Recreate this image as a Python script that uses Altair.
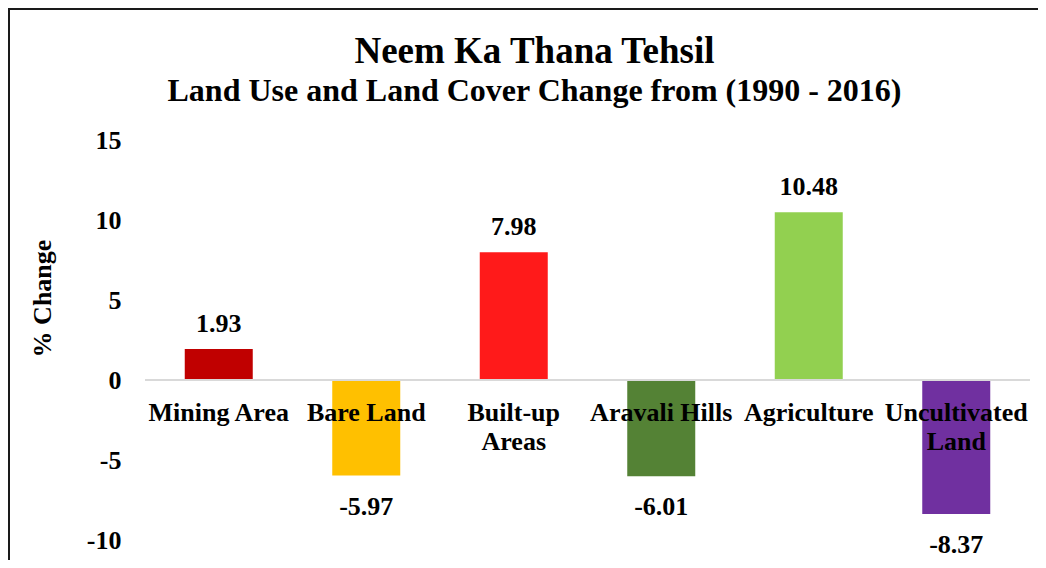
import altair as alt
import pandas as pd

categories = ["Mining Area", "Bare Land", "Built-up Areas", "Aravali Hills", "Agriculture", "Uncultivated Land"]
label_lines = [["Mining Area"], ["Bare Land"], ["Built-up", "Areas"], ["Aravali Hills"], ["Agriculture"], ["Uncultivated", "Land"]]
values = [1.93, -5.97, 7.98, -6.01, 10.48, -8.37]
colors = ["#C00000", "#FFC000", "#FF1A1A", "#548235", "#92D050", "#7030A0"]
y_ticks = [15, 10, 5, 0, -5, -10]

df = pd.DataFrame({
    "cat": categories,
    "value": values,
    "label": [f"{v:.2f}" for v in values],
    "catlabel": ["\n".join(l) for l in label_lines],
})

FONT = "Liberation Serif"
W, H = 885, 420

xenc = alt.X("cat:N", sort=categories, axis=None,
             scale=alt.Scale(paddingInner=0.0, paddingOuter=0.0))
yscale = alt.Scale(domain=[-11.25, 15], nice=False, zero=False)

base = alt.Chart(df)

bars = base.mark_bar(size=68).encode(
    x=xenc,
    y=alt.Y("value:Q", scale=yscale,
            axis=alt.Axis(values=y_ticks, grid=False, ticks=False, domain=False,
                          labelExpr="datum.value",
                          labelFont=FONT, labelFontSize=26, labelFontWeight="bold",
                          labelColor="#000000", labelPadding=24,
                          title="% Change", titleFont=FONT, titleFontSize=26,
                          titleFontWeight="bold", titleColor="#000000",
                          titleAngle=-90, titleAlign="center", titleBaseline="middle",
                          titleX=-103, titleY=158)),
    color=alt.Color("cat:N", sort=categories,
                    scale=alt.Scale(domain=categories, range=colors), legend=None),
)

zero = base.mark_rule(color="#D9D9D9", strokeWidth=2).encode(
    y=alt.datum(0, scale=yscale),
    x=alt.value(0), x2=alt.value(W),
)

pos_lbl = base.transform_filter("datum.value >= 0").mark_text(
    font=FONT, fontSize=26, fontWeight="bold", color="#000000",
    baseline="alphabetic", align="center", dy=-17,
).encode(x=xenc, y=alt.Y("value:Q", scale=yscale), text="label:N")

neg_lbl = base.transform_filter("datum.value < 0").mark_text(
    font=FONT, fontSize=26, fontWeight="bold", color="#000000",
    baseline="alphabetic", align="center", dy=39,
).encode(x=xenc, y=alt.Y("value:Q", scale=yscale), text="label:N")

cat_lbl = base.mark_text(
    font=FONT, fontSize=26, fontWeight="bold", color="#000000",
    baseline="alphabetic", align="center", dy=41, lineBreak="\n", lineHeight=29,
).encode(x=xenc, y=alt.datum(0, scale=yscale), text="catlabel:N")

frame_left = base.mark_rule(color="#1a1a1a", strokeWidth=2).encode(
    x=alt.value(-136), y=alt.value(-131), y2=alt.value(H + 10))
frame_top = base.mark_rule(color="#1a1a1a", strokeWidth=2).encode(
    x=alt.value(-137), x2=alt.value(W + 30), y=alt.value(-131))

chart = alt.layer(bars, zero, pos_lbl, neg_lbl, cat_lbl, frame_left, frame_top).properties(
    width=W, height=H,
    autosize=alt.AutoSizeParams(type="none"),
    padding={"left": 137, "top": 132, "right": 8, "bottom": 0},
    title=alt.TitleParams(
        text="Neem Ka Thana Tehsil",
        subtitle="Land Use and Land Cover Change from (1990 - 2016)",
        anchor="middle", frame="group", dx=-53,
        font=FONT, fontSize=37, fontWeight="bold", color="#000000",
        subtitleFont=FONT, subtitleFontSize=32, subtitleFontWeight="bold",
        subtitleColor="#000000", subtitlePadding=5, offset=-100,
    ),
).configure(background="white").configure_view(strokeWidth=0, stroke=None)

chart.save("out.html", embed_options={"renderer": "svg", "actions": False})
